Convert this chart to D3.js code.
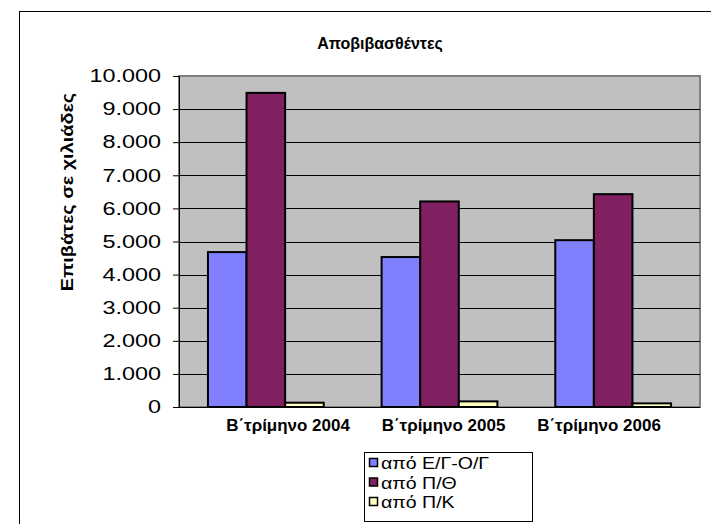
<!DOCTYPE html>
<html>
<head>
<meta charset="utf-8">
<script src="https://cdn.jsdelivr.net/npm/d3@7"></script>
<style>
  body { margin: 0; background: #fff; }
  text { font-family: "Liberation Sans", Arial, sans-serif; }
</style>
</head>
<body>
<div id="chart"></div>
<script>
// chart data
var categories = ["Β΄τρίμηνο 2004", "Β΄τρίμηνο 2005", "Β΄τρίμηνο 2006"];
var seriesNames = ["από Ε/Γ-Ο/Γ", "από Π/Θ", "από Π/Κ"];
var fromEGOG = [4680, 4530, 5040];
var fromPTh = [9490, 6210, 6430];
var fromPK = [130, 170, 110];
var yTickValues = [0, 1000, 2000, 3000, 4000, 5000, 6000, 7000, 8000, 9000, 10000];
var colors = ["#8080ff", "#802060", "#ffffc0"];

var width = 711, height = 524;
var plot = {left: 179, right: 700, top: 76, bottom: 407};

var greek = d3.formatLocale({decimal: ",", thousands: ".", grouping: [3], currency: ["", "€"]});
var fmt = greek.format(",.0f");

// the excel picture has its text drawn wider than normal Arial
function stretch(sel, f) {
  sel.each(function() {
    var w = this.getComputedTextLength();
    d3.select(this)
      .attr("textLength", w * f)
      .attr("lengthAdjust", "spacingAndGlyphs");
  });
}

var svg = d3.select("#chart").append("svg")
    .attr("width", width)
    .attr("height", height);

// outer chart frame (goes past right/bottom edge)
svg.append("rect")
    .attr("x", 19.5).attr("y", 11.5)
    .attr("width", 720).attr("height", 540)
    .attr("fill", "#fff")
    .attr("stroke", "#000")
    .attr("stroke-width", 1);

// each category = 3 bars + gap of 1.5 bars
var x0 = d3.scaleBand()
    .domain(categories)
    .range([plot.left, plot.right]);
var step = x0.bandwidth();
var barW = step / 4.5;
var x1 = d3.scaleBand()
    .domain(d3.range(seriesNames.length))
    .range([0, barW * 3]);

// labels sit a bit off the group centres in the original
var xLabel = d3.scalePoint()
    .domain(categories)
    .range([288, 599]);

var y = d3.scaleLinear()
    .domain([0, 10000])
    .range([plot.bottom, plot.top]);

// plot area
svg.append("rect")
    .attr("x", plot.left).attr("y", plot.top)
    .attr("width", plot.right - plot.left)
    .attr("height", plot.bottom - plot.top)
    .attr("fill", "#c0c0c0")
    .attr("stroke", "#808080")
    .attr("stroke-width", 2);

// gridlines
svg.append("g")
    .selectAll("line")
    .data(yTickValues.filter(function(d) { return d > 0 && d < 10000; }))
    .enter().append("line")
    .attr("x1", plot.left).attr("x2", plot.right)
    .attr("y1", function(d) { return Math.round(y(d)) + 0.5; })
    .attr("y2", function(d) { return Math.round(y(d)) + 0.5; })
    .attr("stroke", "#000")
    .attr("stroke-width", 1);

// bars
var series = [fromEGOG, fromPTh, fromPK];
var groups = svg.append("g").selectAll("g")
    .data(categories)
    .enter().append("g")
    .attr("transform", function(d) { return "translate(" + (x0(d) + barW * 0.75) + ",0)"; });

groups.selectAll("rect")
    .data(function(d, i) { return series.map(function(s, k) { return {k: k, v: s[i]}; }); })
    .enter().append("rect")
    .attr("x", function(d) { return x1(d.k); })
    .attr("width", x1.bandwidth())
    .attr("y", function(d) { return y(d.v); })
    .attr("height", function(d) { return y(0) - y(d.v); })
    .attr("fill", function(d) { return colors[d.k]; })
    .attr("stroke", "#000")
    .attr("stroke-width", 2);

// y axis
var yAxis = d3.axisLeft(y)
    .tickValues(yTickValues)
    .tickFormat(fmt)
    .tickSize(6)
    .tickPadding(12);

var yg = svg.append("g")
    .attr("transform", "translate(" + plot.left + ",0)")
    .call(yAxis);
yg.select(".domain").attr("stroke", "#000").attr("stroke-width", 1);
yg.selectAll("text")
    .attr("font-size", 18)
    .attr("font-family", "Liberation Sans, Arial, sans-serif")
    .attr("fill", "#000")
    .call(stretch, 1.3);

// x axis line
svg.append("line")
    .attr("x1", plot.left - 6).attr("x2", plot.right)
    .attr("y1", plot.bottom + 0.5).attr("y2", plot.bottom + 0.5)
    .attr("stroke", "#000");

// category labels
svg.append("g").selectAll("text")
    .data(categories)
    .enter().append("text")
    .attr("x", function(d) { return xLabel(d); })
    .attr("y", 431)
    .attr("text-anchor", "middle")
    .attr("font-weight", "bold")
    .attr("font-size", 16)
    .text(function(d) { return d; })
    .call(stretch, 1.06);

// chart title
svg.append("text")
    .attr("x", 380).attr("y", 49)
    .attr("text-anchor", "middle")
    .attr("font-weight", "bold")
    .attr("font-size", 16)
    .text("Αποβιβασθέντες");

// y axis title
svg.append("text")
    .attr("transform", "translate(73,192) rotate(-90)")
    .attr("text-anchor", "middle")
    .attr("font-weight", "bold")
    .attr("font-size", 16)
    .text("Επιβάτες σε χιλιάδες")
    .call(stretch, 1.24);

// legend
var legend = svg.append("g");
legend.append("rect")
    .attr("x", 364.5).attr("y", 452.5)
    .attr("width", 168).attr("height", 69)
    .attr("fill", "#fff")
    .attr("stroke", "#000");

var items = legend.selectAll("g.item")
    .data(seriesNames)
    .enter().append("g")
    .attr("class", "item")
    .attr("transform", function(d, i) { return "translate(369," + (463 + i * 19.5) + ")"; });
items.append("rect")
    .attr("x", 0.5).attr("y", -4.5)
    .attr("width", 8).attr("height", 8)
    .attr("fill", function(d, i) { return colors[i]; })
    .attr("stroke", "#000")
    .attr("stroke-width", 1.5);
items.append("text")
    .attr("x", 12).attr("y", 6)
    .attr("font-size", 16)
    .text(function(d) { return d; })
    .call(stretch, 1.22);
</script>
</body>
</html>
